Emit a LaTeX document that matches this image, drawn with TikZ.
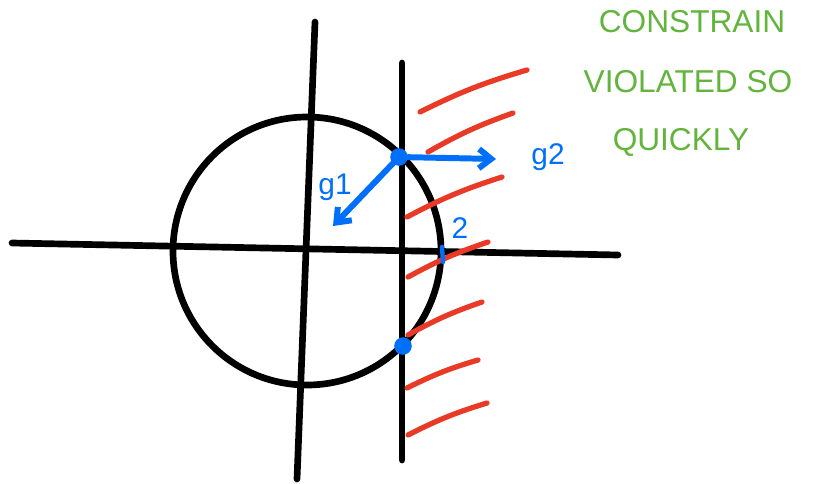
\documentclass[tikz,border=0pt]{standalone}
\usepackage{fontspec}
\setsansfont{Liberation Sans}
\usetikzlibrary{arrows.meta, positioning}
\definecolor{inkred}{RGB}{232,58,38}
\definecolor{inkblue}{RGB}{0,112,250}
\definecolor{inkgreen}{RGB}{98,180,60}

\begin{document}
\begin{tikzpicture}[
  x=0.02cm, y=-0.02cm,
  axis/.style={line width=3.8pt, line cap=round},
  hatch/.style={line width=3pt, inkred, line cap=round},
  vec/.style={-{Straight Barb[length=7pt, width=11pt]}, line width=3.4pt, inkblue, line cap=round},
  lbl/.style={font=\sffamily\fontsize{17}{17}\selectfont, inkblue},
  note/.style={font=\sffamily\fontsize{18}{18}\selectfont, inkgreen},
  dot/.style={circle, fill=inkblue, inner sep=0pt, minimum size=10pt}
]
  \useasboundingbox (0,0) rectangle (813,483);

  % axes, circle and the constraint line
  \coordinate (xl) at (12,243);
  \coordinate (xr) at (618,255);
  \coordinate (yt) at (315,22);
  \coordinate (yb) at (297,479);
  \coordinate (ct) at (402,63);
  \coordinate (cb) at (402,460);
  \draw[axis] (xl) -- (xr);
  \draw[axis] (yt) -- (yb);
  \draw[axis] (307,251) circle[radius=134];
  \draw[axis] (ct) -- (cb);

  % infeasible side
  \foreach \ax/\ay/\bx/\by in {420/112/527/70, 428/152/513/113, 407/217/502/177,
      408/277/488/242, 408/335/482/302, 407/388/478/360, 408/435/487/403}
    \draw[hatch] (\ax,\ay) to[bend left=5] (\bx,\by);

  % gradients
  \node[dot] (top) at (399,157) {};
  \node[dot] (bot) at (403,346) {};
  \coordinate (g1tip) at (333,226);
  \coordinate (g2tip) at (496,159);
  \draw[vec] (top) -- (g1tip);
  \draw[vec] (top) -- (g2tip);
  \node[lbl] (g1) at (335,187) {g1};
  \node[lbl] (g2) at (548,157) {g2};
  \node[lbl] (two) at (460,228) {2};
  \coordinate (tk1) at (442,247);
  \coordinate (tk2) at (443,262);
  \draw[inkblue, line width=2.5pt, line cap=round] (tk1) -- (tk2);

  % note
  \node[note] (n1) at (692,22) {CONSTRAIN};
  \node[note] (n2) at (688,82) {VIOLATED SO};
  \node[note] (n3) at (681,142) {QUICKLY};
\end{tikzpicture}
\end{document}
